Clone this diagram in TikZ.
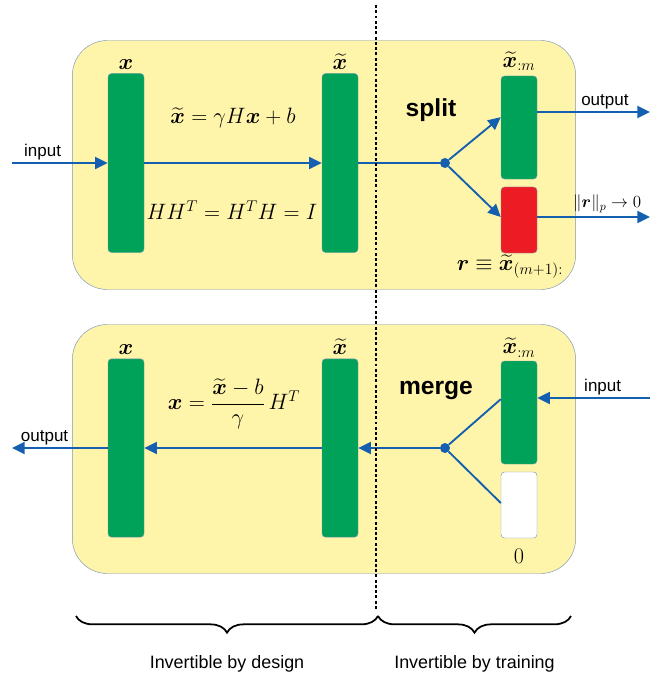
\RequirePackage{fix-cm}
\documentclass[tikz,border=0pt]{standalone}
\usepackage{amsmath,bm}
\usepackage{fontspec}
\setmainfont{Liberation Sans}
\usetikzlibrary{arrows.meta, decorations.pathreplacing, positioning, calc}

\definecolor{panelyellow}{RGB}{255,245,170}
\definecolor{panelline}{RGB}{125,150,180}
\definecolor{bargreen}{RGB}{0,161,88}
\definecolor{resred}{RGB}{237,28,36}
\definecolor{flowblue}{RGB}{20,95,175}

\begin{document}
\begin{tikzpicture}[
        x=0.03cm, y=-0.03cm,
        % styles
        panel/.style={rectangle, rounded corners=1.05cm, minimum width=15.1cm, minimum height=7.47cm, draw=panelline, fill=panelyellow},
        bar/.style={rectangle, rounded corners=3pt, minimum width=1.08cm, draw=panelline, fill=bargreen, line width=0.4pt},
        dot/.style={circle, fill=flowblue, minimum size=0.3cm, inner sep=0pt},
        eq/.style={font=\fontsize{19}{22}\selectfont, inner sep=1pt},
        opname/.style={font=\fontsize{21}{24}\selectfont\bfseries},
        lbl/.style={font=\fontsize{14.5}{16}\selectfont, inner sep=2pt},
        note/.style={font=\fontsize{15.3}{17}\selectfont},
        arrow/.style={line width=1.6pt, draw=flowblue, -{Triangle[length=3.8mm,width=3.6mm]}},
        link/.style={line width=1.6pt, draw=flowblue},
        cut/.style={line width=1.5pt, dash pattern=on 2.5pt off 2pt},
        brace/.style={line width=1.5pt, decorate, decoration={brace, mirror, amplitude=0.5cm}} ]

    \useasboundingbox (0,0) rectangle (667,677);

    % --- TOP: forward pass ---
    \node (enc) [panel] at (324,165) {};
    \node (xin) [bar, minimum height=5.37cm] at (126,163) {};
    \node (xt)  [bar, minimum height=5.37cm] at (340,163) {};
    \node (xinlab) [eq, above=2pt of xin] {$\bm{x}$};
    \node (xtlab)  [eq, above=2pt of xt] {$\widetilde{\bm{x}}$};
    \node (fwd)  [eq] at (233,118) {$\widetilde{\bm{x}}=\gamma H\bm{x}+b$};
    \node (orth) [eq] at (232,210) {$HH^{T}=H^{T}H=I$};

    \node (split) [opname] at (431,110) {split};
    \node (sdot)  [dot] at (445,163) {};
    \node (keep)  [bar, minimum height=3.09cm] at (519,127.5) {};
    \node (resid) [bar, fill=resred, minimum height=1.98cm] at (519,220) {};
    \node (keeplab)  [eq, above=3pt of keep] {$\widetilde{\bm{x}}_{:m}$};
    \node (residlab) [eq] at (510,267) {$\bm{r}\equiv\widetilde{\bm{x}}_{(m+1):}$};

    \coordinate (inL)  at (12,163);
    \coordinate (outK) at (650,112);
    \coordinate (outR) at (650,217);

    % --- BOTTOM: inverse pass ---
    \node (dec) [panel] at (324,449) {};
    \node (xout) [bar, minimum height=5.35cm] at (126,448) {};
    \node (xtb)  [bar, minimum height=5.35cm] at (340,448) {};
    \node (xoutlab) [eq, above=2pt of xout] {$\bm{x}$};
    \node (xtblab)  [eq, above=2pt of xtb] {$\widetilde{\bm{x}}$};
    \node (inv) [eq] at (234,404) {$\bm{x}=\dfrac{\widetilde{\bm{x}}-b}{\gamma}\,H^{T}$};

    \node (merge) [opname] at (436,390) {merge};
    \node (mdot)  [dot] at (445,448) {};
    \node (keepb) [bar, minimum height=3.09cm] at (519,412.5) {};
    \node (zero)  [bar, fill=white, minimum height=1.98cm] at (519,505) {};
    \node (keepblab) [eq, above=2pt of keepb] {$\widetilde{\bm{x}}_{:m}$};
    \node (zerolab)  [eq, below=8pt of zero] {$0$};

    \coordinate (inR)  at (650,398);
    \coordinate (outL) at (12,448);

    % --- CONNECTIONS ---
    % top flow
    \draw [arrow] (inL) -- node[lbl, above, pos=0.32] {input} (xin);
    \draw [arrow] (xin) -- (xt);
    \draw [link] (xt) -- (sdot);
    \draw [arrow] (sdot) -- ([yshift=0.31cm]keep.west);
    \draw [arrow] (sdot) -- ([yshift=0.09cm]resid.west);
    \draw [arrow] (keep.east |- outK) -- node[lbl, above, pos=0.6] {output} (outK);
    \draw [arrow] (resid.east |- outR) -- node[lbl, above, pos=0.62, yshift=1pt] {$\|\bm{r}\|_{p}\to 0$} (outR);

    % bottom flow
    \draw [arrow] (inR) -- node[lbl, above, pos=0.42] {input} (keepb.east |- inR);
    \draw [link] (mdot) -- ([yshift=0.4cm]keepb.west);
    \draw [link] (mdot) -- ([yshift=0.06cm]zero.west);
    \draw [arrow] (mdot) -- (xtb);
    \draw [arrow] (xtb) -- (xout);
    \draw [arrow] (xout) -- node[lbl, above, pos=0.66] {output} (outL);

    % split line and braces
    \coordinate (cutT) at (376,5);
    \coordinate (cutB) at (376,610);
    \draw [cut] (cutT) -- (cutB);

    \coordinate (bL) at (76,616);
    \coordinate (bM) at (378,616);
    \coordinate (bR) at (571,616);
    \draw [brace] (bL) -- node[note, below=1.05cm] {Invertible by design} (bM);
    \draw [brace] (bM) -- node[note, below=1.05cm] {Invertible by training} (bR);

\end{tikzpicture}
\end{document}
